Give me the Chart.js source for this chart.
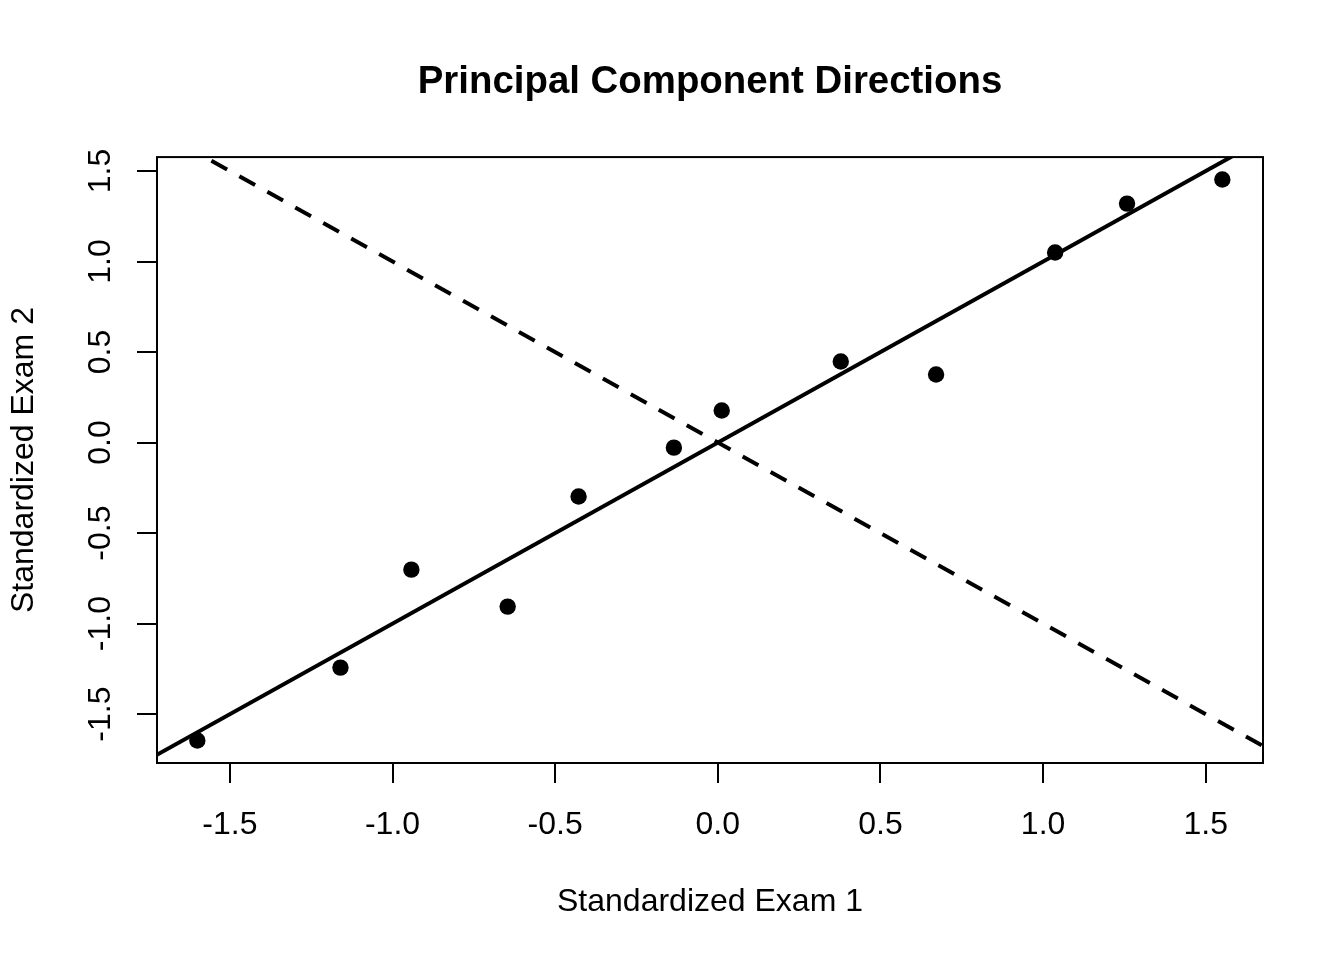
<!DOCTYPE html>
<html>
<head>
<meta charset="utf-8">
<script src="https://cdn.jsdelivr.net/npm/chart.js@4/dist/chart.umd.min.js"></script>
<style>
html,body{margin:0;padding:0;background:#fff;}
#wrap{width:1344px;height:960px;}
</style>
</head>
<body>
<div id="wrap"><canvas id="c" width="1344" height="960"></canvas></div>
<script>
// ---- data ----
const examX = [-1.600, -1.160, -0.942, -0.646, -0.428, -0.135, 0.012, 0.378, 0.671, 1.037, 1.258, 1.551];
const examY = [-1.646, -1.243, -0.702, -0.906, -0.298, -0.028, 0.177, 0.448, 0.376, 1.050, 1.320, 1.453];
const lineX = [-2, 2];
const pc1Y = [-2, 2];
const pc2Y = [2, -2];
const xTicks = [-1.5, -1.0, -0.5, 0.0, 0.5, 1.0, 1.5];
const yTicks = [-1.5, -1.0, -0.5, 0.0, 0.5, 1.0, 1.5];
const xRange = [-1.724, 1.676];
const yRange = [-1.770, 1.577];
const titleText = 'Principal Component Directions';
const xTitle = 'Standardized Exam 1';
const yTitle = 'Standardized Exam 2';

const FONT = "'Liberation Sans', Arial, Helvetica, sans-serif";

const boxPlugin = {
  id: 'box',
  afterDatasetsDraw(chart) {
    const {ctx, chartArea: a} = chart;
    ctx.save();
    ctx.strokeStyle = '#000';
    ctx.lineWidth = 2;
    ctx.strokeRect(a.left, a.top, a.right - a.left, a.bottom - a.top);
    ctx.restore();
  }
};

new Chart(document.getElementById('c'), {
  type: 'scatter',
  data: {
    datasets: [
      {
        label: 'PC1',
        data: lineX.map((x, i) => ({x: x, y: pc1Y[i]})),
        showLine: true,
        borderColor: '#000',
        borderWidth: 4,
        pointRadius: 0,
        fill: false,
        clip: 0
      },
      {
        label: 'PC2',
        data: lineX.map((x, i) => ({x: x, y: pc2Y[i]})),
        showLine: true,
        borderColor: '#000',
        borderWidth: 4,
        borderDash: [18, 14],
        borderDashOffset: -5,
        pointRadius: 0,
        fill: false,
        clip: 0
      },
      {
        label: 'Exams',
        data: examX.map((x, i) => ({x: x, y: examY[i]})),
        showLine: false,
        pointRadius: 8.2,
        pointBorderWidth: 0,
        pointBackgroundColor: '#000',
        pointBorderColor: '#000'
      }
    ]
  },
  options: {
    responsive: false,
    devicePixelRatio: 1,
    animation: false,
    events: [],
    layout: {padding: {left: 0, right: 81, top: 0, bottom: 0}},
    plugins: {
      legend: {display: false},
      tooltip: {enabled: false},
      title: {
        display: true,
        text: titleText,
        color: '#000',
        fullSize: false,
        font: {family: FONT, size: 38.4, weight: 'bold', lineHeight: 1.2},
        padding: {top: 59, bottom: 52}
      }
    },
    scales: {
      x: {
        type: 'linear',
        position: 'bottom',
        min: xRange[0],
        max: xRange[1],
        afterBuildTicks: s => { s.ticks = xTicks.map(v => ({value: v})); },
        afterFit: s => { s.height = 197; s.paddingLeft = 0; s.paddingRight = 0; },
        ticks: {
          callback: v => Number(v).toFixed(1),
          color: '#000',
          font: {family: FONT, size: 32, lineHeight: 1.2},
          padding: 23,
          autoSkip: false,
          minRotation: 0,
          maxRotation: 0
        },
        grid: {display: true, drawOnChartArea: false, drawTicks: true, tickLength: 20, color: '#000', lineWidth: 2},
        border: {display: false},
        title: {
          display: true,
          text: xTitle,
          color: '#000',
          font: {family: FONT, size: 32, lineHeight: 1.2},
          padding: {top: 0, bottom: 39}
        }
      },
      y: {
        type: 'linear',
        position: 'left',
        min: yRange[0],
        max: yRange[1],
        afterBuildTicks: s => { s.ticks = yTicks.map(v => ({value: v})); },
        afterFit: s => { s.width = 157; s.paddingTop = 0; s.paddingBottom = 0; },
        ticks: {
          callback: v => Number(v).toFixed(1),
          color: '#000',
          font: {family: FONT, size: 32, lineHeight: 1.2},
          padding: 8.5,
          autoSkip: false,
          minRotation: 90,
          maxRotation: 90,
          crossAlign: 'center'
        },
        grid: {display: true, drawOnChartArea: false, drawTicks: true, tickLength: 20, color: '#000', lineWidth: 2},
        border: {display: false},
        title: {
          display: true,
          text: yTitle,
          color: '#000',
          font: {family: FONT, size: 32, lineHeight: 1.2},
          padding: {top: 5, bottom: 0}
        }
      }
    }
  },
  plugins: [boxPlugin]
});
</script>
</body>
</html>
